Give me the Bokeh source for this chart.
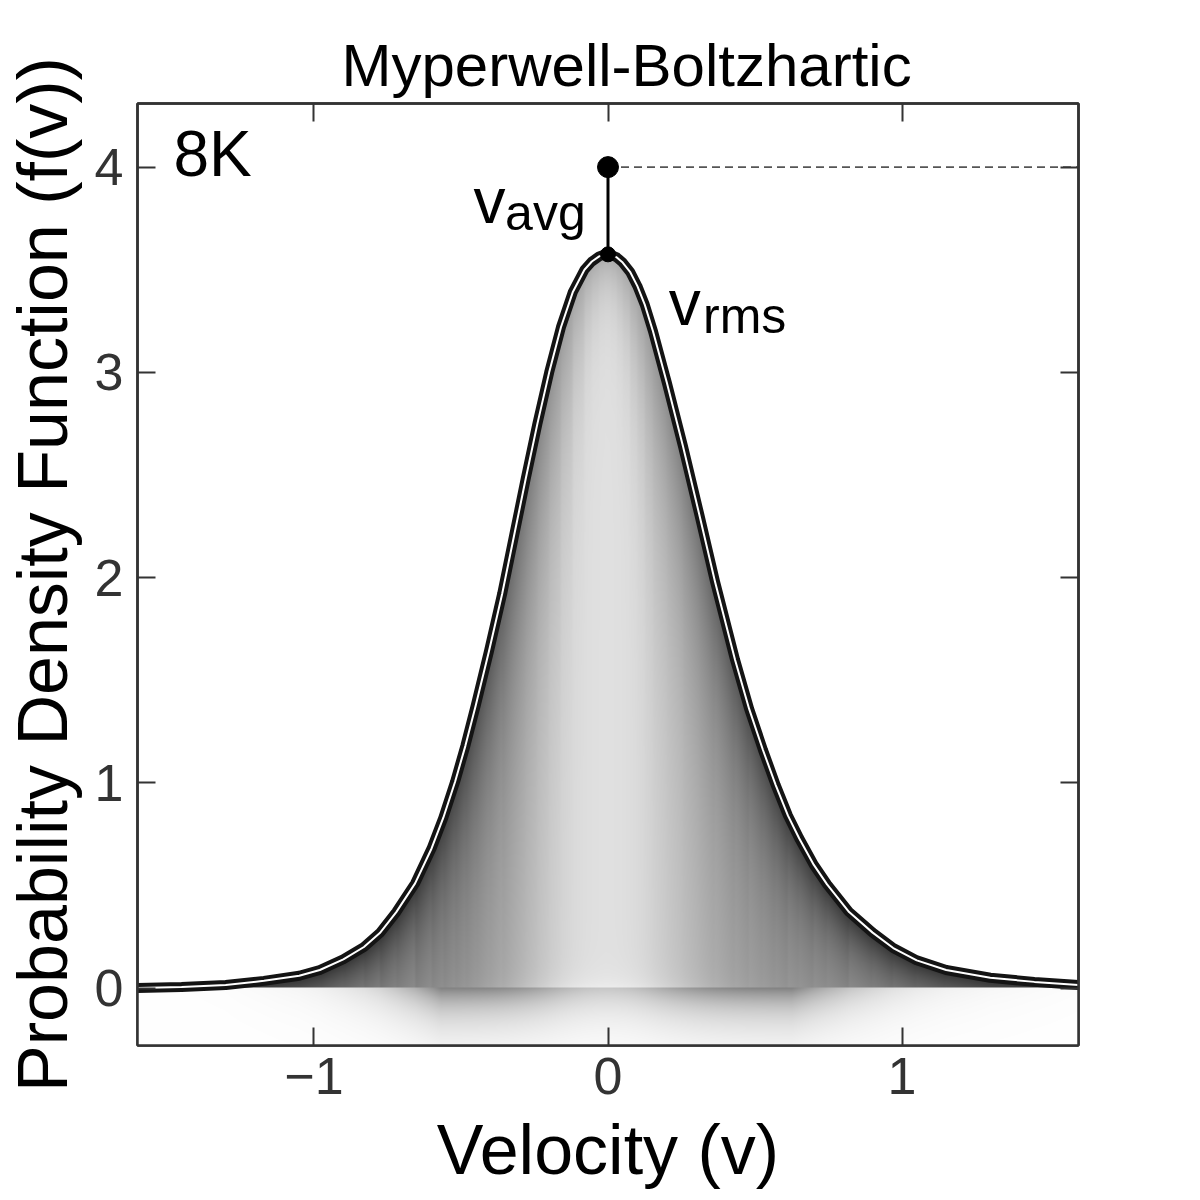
import numpy as np
from bokeh.plotting import figure
from bokeh.models import Range1d, FixedTicker, LinearAxis, Label
from bokeh.embed import file_html
from bokeh.resources import INLINE

# ---------------- data ----------------
title_text = "Myperwell-Boltzhartic"
x_label = "Velocity (v)"
y_label = "Probability Density Function (f(v))"
temp_label = "8K"
x_ticks = [-1, 0, 1]
y_ticks = [0, 1, 2, 3, 4]

velocity = [-1.60, -1.45, -1.30, -1.17, -1.05, -0.98, -0.90, -0.83, -0.776, -0.72,
            -0.656, -0.60, -0.56, -0.52, -0.485, -0.45, -0.405, -0.36, -0.32, -0.28,
            -0.24, -0.20, -0.16, -0.12, -0.08, -0.055, -0.03, -0.01, 0.01, 0.03,
            0.05, 0.075, 0.10, 0.125, 0.153, 0.20, 0.255, 0.31, 0.364, 0.432,
            0.48, 0.527, 0.57, 0.612, 0.65, 0.70, 0.745, 0.82, 0.90, 0.97,
            1.05, 1.15, 1.30, 1.45, 1.60]
pdf = [0.000, 0.005, 0.015, 0.035, 0.060, 0.088, 0.140, 0.200, 0.268, 0.370,
       0.510, 0.680, 0.830, 1.005, 1.180, 1.375, 1.640, 1.920, 2.200, 2.480,
       2.750, 3.000, 3.220, 3.390, 3.500, 3.540, 3.565, 3.575, 3.572, 3.560,
       3.535, 3.490, 3.420, 3.330, 3.200, 2.950, 2.640, 2.310, 1.980, 1.600,
       1.360, 1.160, 0.990, 0.840, 0.730, 0.600, 0.505, 0.370, 0.270, 0.195,
       0.135, 0.088, 0.050, 0.030, 0.015]

avg_v, avg_f = 0.0, 4.0
peak_v, peak_f = 0.0, 3.575

x_lo, x_hi = -1.6, 1.6
y_lo, y_hi = -0.28, 4.31

FONT = "Liberation Sans"

p = figure(width=1200, height=1200, x_range=Range1d(x_lo, x_hi), y_range=Range1d(y_lo, y_hi),
           output_backend="svg", toolbar_location=None, title=title_text,
           background_fill_color="white", border_fill_color="white")
p.min_border_left = 137
p.min_border_right = 122
p.min_border_top = 103
p.min_border_bottom = 155

p.title.text_font = FONT
p.title.text_font_size = "60px"
p.title.text_font_style = "normal"
p.title.align = "left"
p.title.offset = 204
p.title.standoff = 9
p.title.text_color = "black"

p.xgrid.grid_line_color = None
p.ygrid.grid_line_color = None
p.outline_line_color = "#333333"
p.outline_line_width = 2.5

# ---------------- shading image ----------------
nx, ny = 941, 942
xs = np.linspace(x_lo, x_hi, nx)
ys = np.linspace(y_lo, y_hi, ny)
fx = np.interp(xs, velocity, pdf)
sx = nx / (x_hi - x_lo)
sy = ny / (y_hi - y_lo)
X, Y = np.meshgrid(xs, ys)
F = fx[None, :]
slope = np.gradient(fx * sy, xs * sx)
vert = (F - Y) * sy
perp = vert / np.sqrt(1 + slope[None, :] ** 2)
fmax = max(pdf)
base = 0.62 + 0.26 * (F / fmax) ** 2
A = 0.46 - 0.24 * np.clip(Y / fmax, 0, 1)
shade_in = base - A * np.exp(-np.clip(perp, 0, None) / 34.0)
shade_in = shade_in + 0.05 * np.exp(-np.clip(Y, 0, None) * sy / 12.0) * (F / fmax)
inside = (Y >= 0) & (Y <= F)

depth = -Y * sy
h = np.clip(F / 0.8, 0, 1) * (1 - 0.55 * (F / fmax) ** 3)
shade_below = 1 - 0.5 * h * np.exp(-np.clip(depth, 0, None) / 26.0)
below = Y < 0

gray = np.ones_like(X)
gray[inside] = shade_in[inside]
gray[below] = shade_below[below]
gray = np.clip(gray, 0, 1)
img = np.zeros((ny, nx, 4), dtype=np.uint8)
g8 = (gray * 255).astype(np.uint8)
img[..., 0] = g8
img[..., 1] = g8
img[..., 2] = g8
img[..., 3] = np.where(inside | below, 255, 0).astype(np.uint8)
p.image_rgba(image=[img.view(dtype=np.uint32).reshape((ny, nx))], x=x_lo, y=y_lo,
             dw=x_hi - x_lo, dh=y_hi - y_lo)

# ---------------- curve ----------------
p.line(velocity, pdf, line_width=10, line_color="#141414", line_join="round")
p.line(velocity, pdf, line_width=2, line_color="white", line_join="round")

# ---------------- markers ----------------
p.line([avg_v, x_hi], [avg_f, avg_f], line_color="#555555", line_width=1.6, line_dash="8 5")
p.line([avg_v, peak_v], [avg_f, peak_f], line_color="black", line_width=3)
p.scatter([avg_v], [avg_f], size=21, color="black")
p.scatter([peak_v], [peak_f], size=15, color="black")

def lab(x, y, t, size):
    p.add_layout(Label(x=x, y=y, text=t, text_font=FONT, text_font_size=size,
                       text_color="black", text_align="left", text_baseline="alphabetic"))

lab(-0.457, 3.835, "v", "64px")
lab(-0.350, 3.777, "avg", "50px")
lab(0.207, 3.338, "v", "64px")
lab(0.323, 3.275, "rms", "50px")
lab(-1.478, 4.065, temp_label, "64px")

# ---------------- axes ----------------
def style_axis(ax, ticks, labels=True):
    ax.ticker = FixedTicker(ticks=ticks)
    ax.major_tick_in = 18
    ax.major_tick_out = 0
    ax.minor_tick_line_color = None
    ax.major_tick_line_color = "#333333"
    ax.major_tick_line_width = 2
    ax.axis_line_color = "#333333"
    ax.axis_line_width = 2.5
    ax.major_label_text_font = FONT
    ax.major_label_text_font_size = "52px"
    ax.major_label_text_color = "#333333"
    if not labels:
        ax.major_label_overrides = {t: "" for t in ticks}

style_axis(p.xaxis[0], x_ticks)
style_axis(p.yaxis[0], y_ticks)
p.xaxis[0].major_label_overrides = {-1: "\u22121", 0: "0", 1: "1"}
p.xaxis[0].major_label_standoff = 12
p.yaxis[0].major_label_standoff = 14
p.xaxis[0].axis_label = x_label
p.yaxis[0].axis_label = y_label
for ax in (p.xaxis[0], p.yaxis[0]):
    ax.axis_label_text_font = FONT
    ax.axis_label_text_font_size = "70px"
    ax.axis_label_text_font_style = "normal"
    ax.axis_label_text_color = "black"
p.xaxis[0].axis_label_standoff = 14
p.yaxis[0].axis_label_standoff = 10

top = LinearAxis()
style_axis(top, x_ticks, labels=False)
p.add_layout(top, "above")
right = LinearAxis()
style_axis(right, y_ticks, labels=False)
p.add_layout(right, "right")

open("out.html", "w").write(file_html(p, INLINE))
